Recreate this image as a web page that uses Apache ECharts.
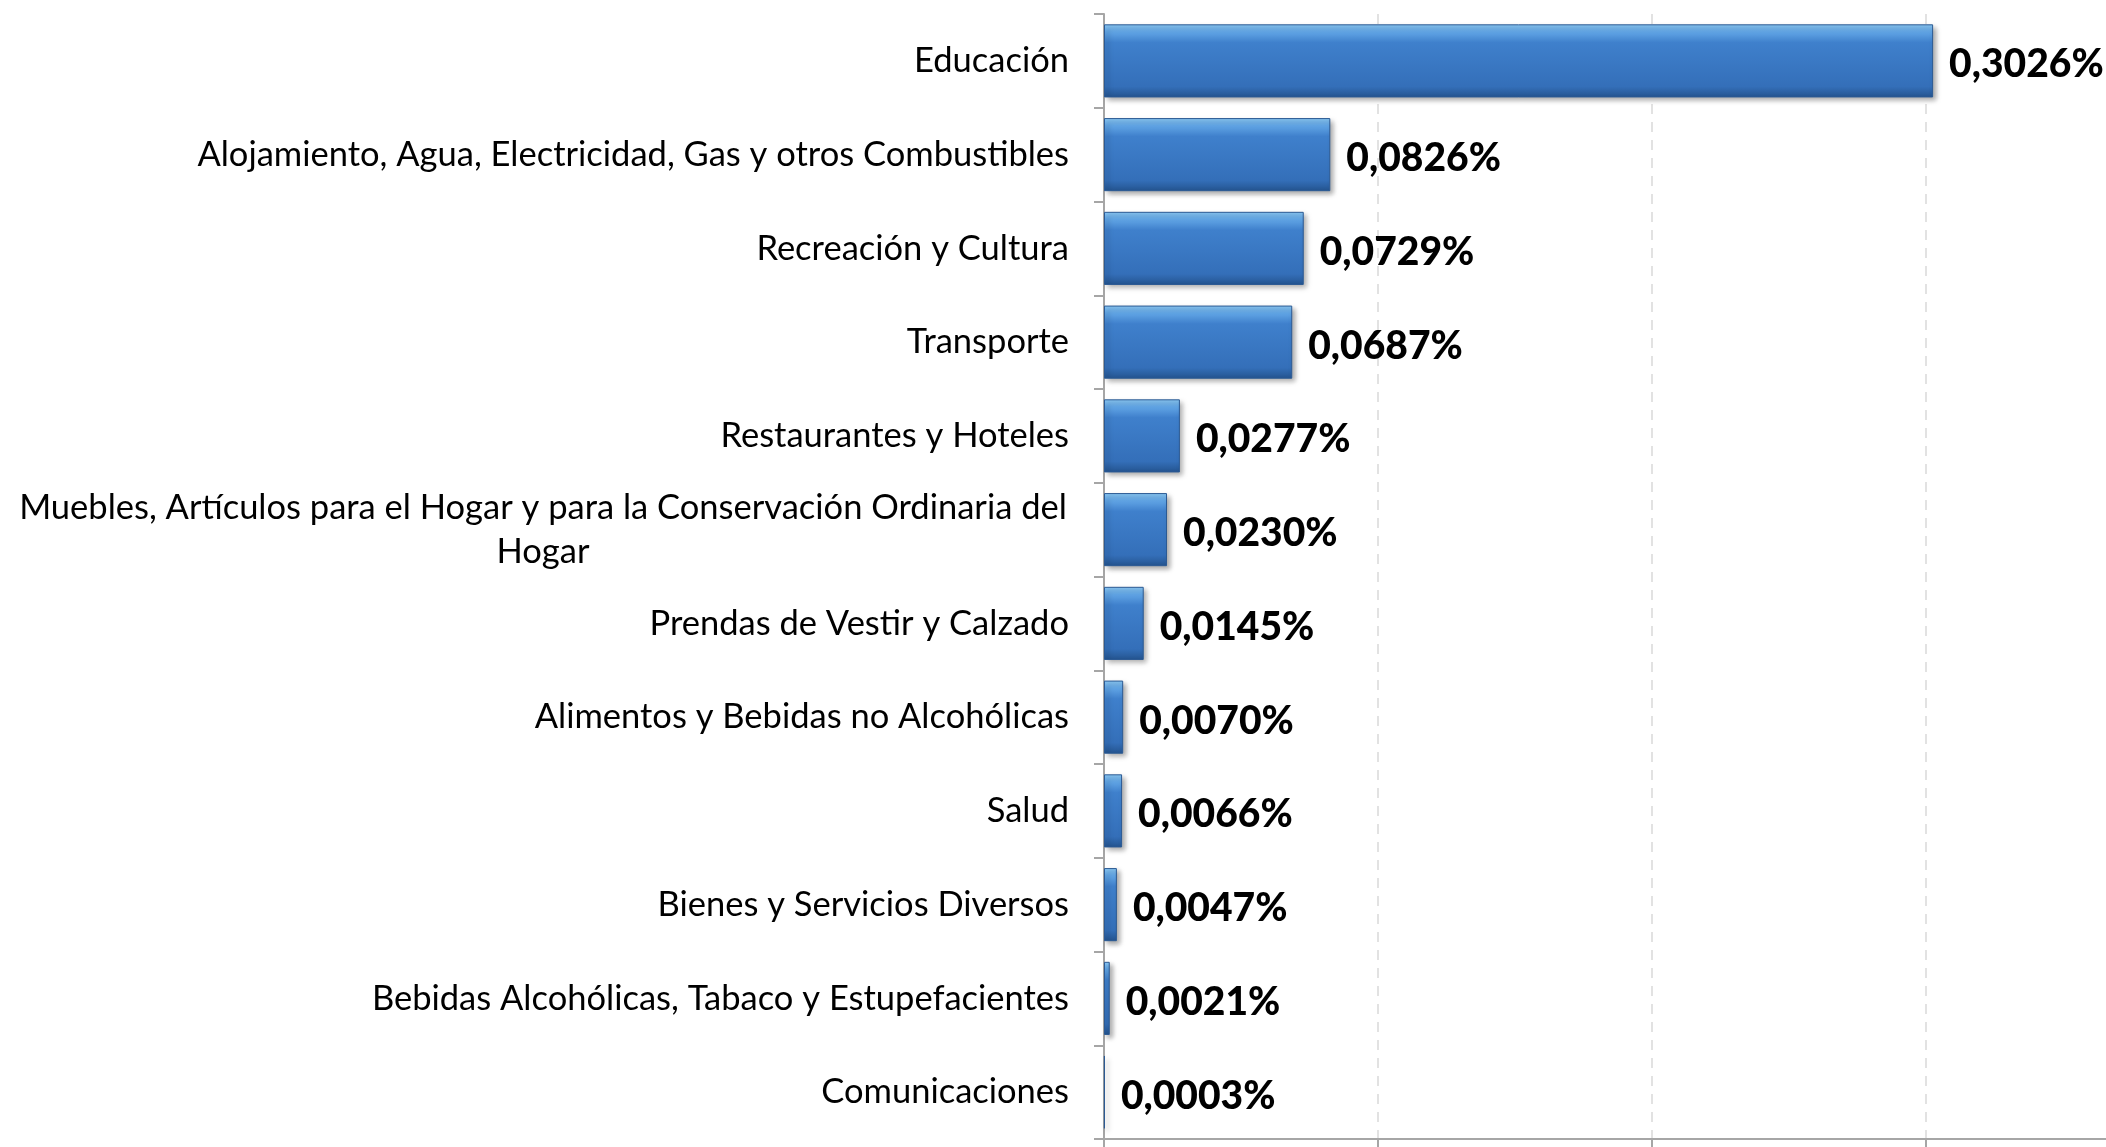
<!DOCTYPE html>
<html>
<head>
<meta charset="utf-8">
<script src="https://cdn.jsdelivr.net/npm/echarts@6/dist/echarts.min.js"></script>
<style>
  html, body { margin: 0; padding: 0; background: #fff; }
  #chart { width: 2106px; height: 1147px; }
</style>
</head>
<body>
<div id="chart"></div>
<script>
// categorias, de arriba hacia abajo
const categorias = [
  "Educación",
  "Alojamiento, Agua, Electricidad, Gas y otros Combustibles",
  "Recreación y Cultura",
  "Transporte",
  "Restaurantes y Hoteles",
  "Muebles, Artículos para el Hogar y para la Conservación Ordinaria del Hogar",
  "Prendas de Vestir y Calzado",
  "Alimentos y Bebidas no Alcohólicas",
  "Salud",
  "Bienes y Servicios Diversos",
  "Bebidas Alcohólicas, Tabaco y Estupefacientes",
  "Comunicaciones"
];
const valores = [0.3026, 0.0826, 0.0729, 0.0687, 0.0277, 0.0230, 0.0145, 0.0070, 0.0066, 0.0047, 0.0021, 0.0003];
const ejeTicks = [0, 0.1, 0.2, 0.3, 0.4];

let mychart = echarts.init(document.getElementById("chart"));

mychart.setOption({
  animation: false,
  grid: {
    left: 1104,
    width: 1096,
    top: 14,
    bottom: 8,
    containLabel: false,
    outerBoundsMode: "none"
  },
  xAxis: {
    type: "value",
    min: ejeTicks[0],
    max: ejeTicks[ejeTicks.length - 1],
    interval: 0.1,
    axisLine: { show: true, lineStyle: { color: "#a6a6a6", width: 2 } },
    axisTick: { show: true, inside: false, length: 10, lineStyle: { color: "#a6a6a6", width: 2 } },
    axisLabel: { show: false },
    splitLine: { show: true, lineStyle: { color: "#d9d9d9", type: [10, 8], width: 1.5 } }
  },
  yAxis: {
    type: "category",
    inverse: true,
    data: categorias,
    axisLine: { show: true, lineStyle: { color: "#a6a6a6", width: 2 } },
    axisTick: { show: true, length: 10, lineStyle: { color: "#a6a6a6", width: 2 } },
    axisLabel: {
      margin: 35,
      color: "#000",
      fontFamily: "Lato",
      fontSize: 34.5,
      lineHeight: 44,
      formatter: function (v) {
        if (v.indexOf("Muebles") === 0) {
          return "{m|Muebles, Artículos para el Hogar y para la Conservación Ordinaria del}\n{m|Hogar}";
        }
        return v;
      },
      rich: {
        m: {
          width: 1052,
          align: "center",
          fontFamily: "Lato",
          fontSize: 34.5,
          lineHeight: 44,
          color: "#000"
        }
      }
    }
  },
  series: [
    {
      type: "bar",
      data: valores,
      barCategoryGap: "22%",
      itemStyle: {
        color: new echarts.graphic.LinearGradient(0, 0, 0, 1, [
          { offset: 0, color: "#8ccaf6" },
          { offset: 0.1, color: "#62a6e6" },
          { offset: 0.25, color: "#3f80cc" },
          { offset: 0.85, color: "#346fb9" },
          { offset: 1, color: "#24548f" }
        ]),
        borderColor: "#2b5a94",
        borderWidth: 1,
        shadowColor: "rgba(0,0,0,0.35)",
        shadowBlur: 5,
        shadowOffsetX: 3,
        shadowOffsetY: 3
      },
      label: {
        show: true,
        position: "right",
        distance: 16,
        offset: [0, 4],
        color: "#000",
        fontFamily: "Lato",
        fontWeight: 900,
        fontSize: 39,
        formatter: function (p) {
          return p.value.toFixed(4).replace(".", ",") + "%";
        }
      }
    }
  ]
});
</script>
</body>
</html>
